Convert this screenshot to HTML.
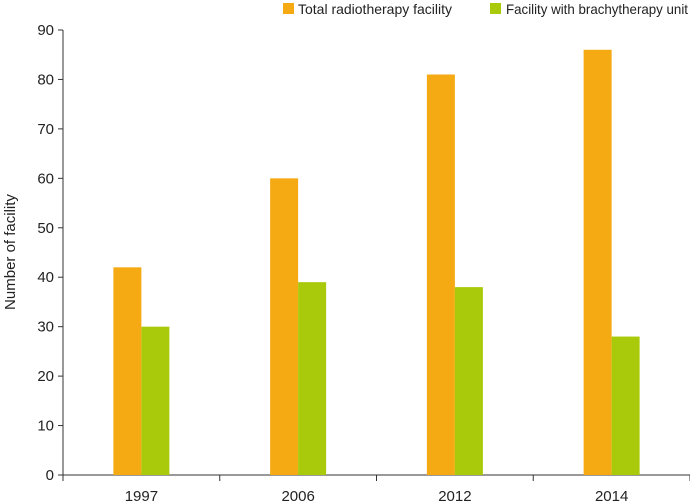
<!DOCTYPE html>
<html><head><meta charset="utf-8"><style>
body{margin:0;background:#fff}
svg{display:block;font-family:"Liberation Sans",sans-serif}
</style></head><body>
<svg id="chart" width="690" height="503">
<g id="legend">
<rect x="283" y="3" width="11" height="11" fill="#F5A913"/>
<text x="298" y="14" font-size="14" fill="#222" textLength="154" lengthAdjust="spacingAndGlyphs">Total radiotherapy facility</text>
<rect x="490" y="3" width="11" height="11" fill="#A8CA0A"/>
<text x="506" y="14" font-size="14" fill="#222" textLength="182" lengthAdjust="spacingAndGlyphs">Facility with brachytherapy unit</text>
</g>
<text transform="translate(15,252) rotate(-90)" text-anchor="middle" font-size="15" fill="#222">Number of facility</text>
<g id="axes"></g><g id="bars"></g>
</svg>
<script>
const categories=["1997","2006","2012","2014"];
const totalValues=[42,60,81,86];
const brachyValues=[30,39,38,28];
const yTicks=[0,10,20,30,40,50,60,70,80,90];
const NS="http://www.w3.org/2000/svg";
const x0=63,x1=690,yBase=475,yTop=30,yMax=90;
const gw=(x1-x0)/categories.length;
function y(v){return yBase-(v/yMax)*(yBase-yTop);}
function xc(i){return x0+gw*(i+0.5);}
function mk(tag,attrs,parent){const e=document.createElementNS(NS,tag);for(const k in attrs)e.setAttribute(k,attrs[k]);parent.appendChild(e);return e;}
const axes=document.getElementById('axes'),bars=document.getElementById('bars');
const bw=28;
categories.forEach((c,i)=>{
 const r1=mk('rect',{x:xc(i)-bw,y:y(totalValues[i]),width:bw,height:yBase-y(totalValues[i]),fill:'#F5A913'},bars);
 
 
 const r2=mk('rect',{x:xc(i),y:y(brachyValues[i]),width:bw,height:yBase-y(brachyValues[i]),fill:'#A8CA0A'},bars);
 
 
 const t=mk('text',{x:xc(i),y:501,'text-anchor':'middle','font-size':'15',fill:'#222'},axes);
 t.textContent=c;
 
 
});
for(let i=0;i<=categories.length;i++){
 const l=mk('line',{x1:x0+gw*i,x2:x0+gw*i,y1:yBase,y2:yBase+6,stroke:'#333','stroke-width':1},axes);
 
 
}
yTicks.forEach(v=>{
 const l=mk('line',{x1:x0-5,x2:x0,y1:y(v),y2:y(v),stroke:'#333','stroke-width':1},axes);
 
 
 const t=mk('text',{x:x0-9,y:y(v)+5,'text-anchor':'end','font-size':'15',fill:'#222'},axes);
 t.textContent=v;
 
 
});
const ya=mk('line',{x1:x0,x2:x0,y1:yTop,y2:yBase,stroke:'#333','stroke-width':1},axes);


const xa=mk('line',{x1:x0,x2:x1,y1:yBase,y2:yBase,stroke:'#333','stroke-width':1},axes);


</script>
</body></html>
